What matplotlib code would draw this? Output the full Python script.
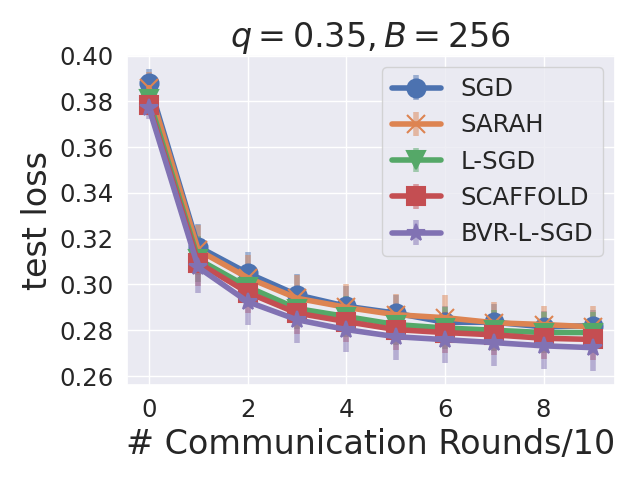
import numpy as np
import matplotlib
matplotlib.use('Agg')
import matplotlib.pyplot as plt
import seaborn as sns

rounds = np.arange(10)

sgd = [0.388, 0.3165, 0.3050, 0.2955, 0.2905, 0.2875, 0.2835, 0.2835, 0.2815, 0.2820]
sarah = [0.386, 0.3150, 0.3030, 0.2940, 0.2900, 0.2868, 0.2855, 0.2833, 0.2825, 0.2815]
lsgd = [0.381, 0.3110, 0.2990, 0.2895, 0.2860, 0.2825, 0.2810, 0.2800, 0.2790, 0.2790]
scaffold = [0.3785, 0.3095, 0.2965, 0.2875, 0.2838, 0.2803, 0.2790, 0.2780, 0.2765, 0.2760]
bvr = [0.3773, 0.3075, 0.2925, 0.2846, 0.2803, 0.2772, 0.2759, 0.2746, 0.2732, 0.2724]

sgd_err = [0.006, 0.010, 0.009, 0.009, 0.009, 0.008, 0.007, 0.008, 0.007, 0.007]
sarah_err = [0.007, 0.011, 0.010, 0.010, 0.010, 0.009, 0.010, 0.009, 0.008, 0.009]
lsgd_err = [0.004, 0.010, 0.009, 0.009, 0.009, 0.009, 0.009, 0.009, 0.009, 0.009]
scaffold_err = [0.004, 0.010, 0.009, 0.009, 0.009, 0.009, 0.009, 0.009, 0.009, 0.009]
bvr_err = [0.005, 0.011, 0.010, 0.010, 0.010, 0.010, 0.010, 0.010, 0.010, 0.010]

names = ['SGD', 'SARAH', 'L-SGD', 'SCAFFOLD', 'BVR-L-SGD']
markers = ['o', 'x', 'v', 's', '*']

sns.set_theme(style='darkgrid')
pal = sns.color_palette('deep')

fig = plt.figure(figsize=(6.4, 4.8), dpi=100)
ax = fig.add_axes([0.198, 0.198, 0.763, 0.687])

series = [(sgd, sgd_err), (sarah, sarah_err), (lsgd, lsgd_err),
          (scaffold, scaffold_err), (bvr, bvr_err)]
for i, (vals, err) in enumerate(series):
    eb = ax.errorbar(rounds, vals, yerr=err, color=pal[i], marker=markers[i],
                     markersize=13, linewidth=4, elinewidth=4,
                     markeredgewidth=1.5, label=names[i])
    for c in eb[2]:
        c.set_alpha(0.5)

ax.set_xlim(-0.45, 9.45)
ax.set_ylim(0.2561, 0.4002)
ax.set_xticks([0, 2, 4, 6, 8])
ax.set_yticks([0.26, 0.28, 0.30, 0.32, 0.34, 0.36, 0.38, 0.40])
ax.tick_params(labelsize=17.6)
ax.set_xlabel('# Communication Rounds/10', fontsize=24)
ax.set_ylabel('test loss', fontsize=24)
ax.set_title('$q=0.35, B=256$', fontsize=24)
ax.legend(loc='upper right', fontsize=17.6)

plt.savefig('out.png', dpi=100)
